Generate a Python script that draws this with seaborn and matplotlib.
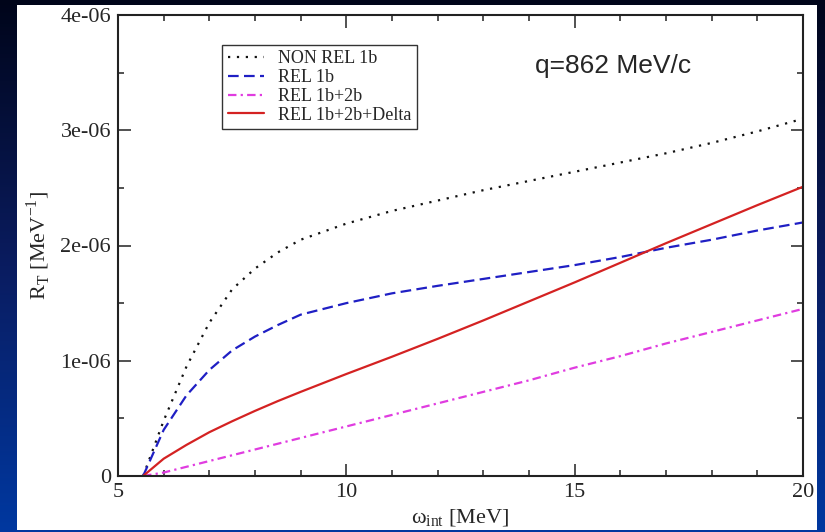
import numpy as np
import pandas as pd
import seaborn as sns
import matplotlib.pyplot as plt
from matplotlib.colors import LinearSegmentedColormap
from matplotlib.patches import Rectangle
from matplotlib.ticker import MultipleLocator

# values (R_T in units of 1e-6 MeV^-1)
omega = [5.55, 6.0, 6.5, 7.0, 7.5, 8.0, 8.5, 9.0, 10, 11, 12, 13, 14, 15, 16, 17, 18, 19, 20]
nonrel_1b = [0, 0.48, 0.95, 1.33, 1.62, 1.80, 1.94, 2.05, 2.19, 2.30, 2.39, 2.48, 2.56, 2.64, 2.72, 2.80, 2.89, 2.99, 3.10]
rel_1b = [0, 0.40, 0.70, 0.92, 1.09, 1.21, 1.31, 1.40, 1.50, 1.585, 1.65, 1.71, 1.77, 1.83, 1.90, 1.98, 2.05, 2.13, 2.20]
rel_1b2b = [0, 0.03, 0.08, 0.13, 0.18, 0.23, 0.28, 0.33, 0.43, 0.53, 0.63, 0.73, 0.83, 0.94, 1.04, 1.15, 1.25, 1.35, 1.45]
rel_delta = [0, 0.15, 0.27, 0.38, 0.475, 0.565, 0.65, 0.73, 0.885, 1.035, 1.19, 1.35, 1.515, 1.68, 1.85, 2.02, 2.185, 2.35, 2.51]

series_names = ["NON REL 1b", "REL 1b", "REL 1b+2b", "REL 1b+2b+Delta"]
series_vals = [nonrel_1b, rel_1b, rel_1b2b, rel_delta]
colors = ["#111111", "#1f1fc4", "#e03ce0", "#d42222"]
dash_styles = [(1, 3), (4.8, 2.4), (3.8, 1.9, 1, 1.9), ""]

yticks = [0, 1e-6, 2e-6, 3e-6, 4e-6]
ytick_labels = ["0", "1e-06", "2e-06", "3e-06", "4e-06"]
xticks = [5, 10, 15, 20]

df = pd.concat([
    pd.DataFrame({"omega": omega, "R": np.array(v) * 1e-6, "series": n})
    for n, v in zip(series_names, series_vals)
])

sns.set_style("ticks")
plt.rcParams["font.family"] = ["Liberation Serif", "DejaVu Serif"]
plt.rcParams["mathtext.fontset"] = "custom"
plt.rcParams["mathtext.rm"] = "Liberation Serif"

W, H = 825, 532
fig = plt.figure(figsize=(W / 100, H / 100), dpi=100)

# slide background with gradient and white panel
bg = fig.add_axes([0, 0, 1, 1], zorder=0)
cmap = LinearSegmentedColormap.from_list("slide", ["#00051a", "#0a1c60", "#0038a0"])
grad = np.linspace(0, 1, 256).reshape(-1, 1)
bg.imshow(grad, cmap=cmap, aspect="auto", extent=[0, W, H, 0])
bg.add_patch(Rectangle((17, 5), 800, 525, facecolor="white", edgecolor="none"))
bg.set_xlim(0, W)
bg.set_ylim(H, 0)
bg.axis("off")

ax = fig.add_axes([118 / W, 1 - 476 / H, 685 / W, 461 / H], zorder=1)
ax.set_facecolor("white")

sns.lineplot(data=df, x="omega", y="R", hue="series", style="series",
             hue_order=series_names, style_order=series_names,
             palette=dict(zip(series_names, colors)),
             dashes=dict(zip(series_names, dash_styles)),
             linewidth=1.6, ax=ax)

ax.set_xlim(5, 20)
ax.set_ylim(0, 4e-6)
ax.set_xticks(xticks)
ax.set_yticks(yticks)
ax.set_yticklabels(ytick_labels)
ax.xaxis.set_minor_locator(MultipleLocator(1))
ax.yaxis.set_minor_locator(MultipleLocator(0.5e-6))
ax.tick_params(which="both", direction="in", top=True, right=True,
               labelsize=16, color="#333333", width=1.2)
ax.tick_params(which="major", length=9, pad=5)
ax.tick_params(which="minor", length=4.5)
for s in ax.spines.values():
    s.set_linewidth(1.5)
    s.set_color("#222222")

ax.set_xlabel("ω$_\\mathregular{int}$ [MeV]", fontsize=16, labelpad=4)
ax.set_ylabel("R$_\\mathregular{T}$ [MeV$^\\mathregular{-1}$]", fontsize=16, labelpad=6)

old = ax.get_legend()
handles = old.legend_handles
for h in handles:
    h.set_linewidth(1.6)
leg = ax.legend(handles, series_names, loc="upper left",
                bbox_to_anchor=(0.152, 0.935), borderaxespad=0,
                fontsize=13, fancybox=False, framealpha=1,
                edgecolor="#333333", handlelength=2.0, handletextpad=0.8,
                labelspacing=0.1, borderpad=0.3)
leg.get_frame().set_linewidth(1.0)

ax.text(0.609, 0.874, "q=862 MeV/c", transform=ax.transAxes,
        fontsize=19, family="Liberation Sans", va="baseline", ha="left")

fig.savefig("out.png", dpi=100)
